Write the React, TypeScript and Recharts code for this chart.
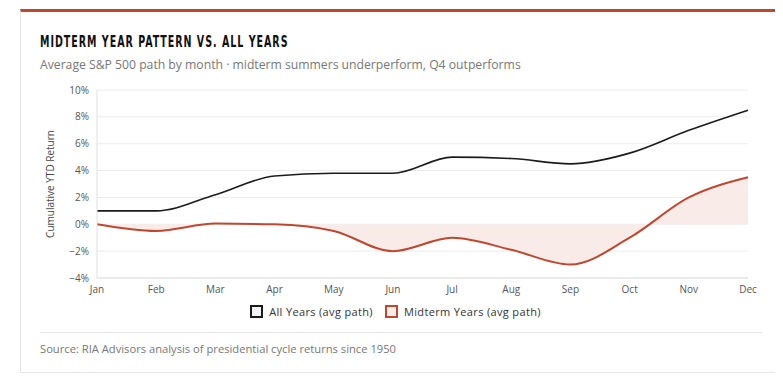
import React from 'react';
import {
  ComposedChart,
  Line,
  Area,
  XAxis,
  YAxis,
  CartesianGrid,
} from 'recharts';

// Month categories
const months = ['Jan', 'Feb', 'Mar', 'Apr', 'May', 'Jun', 'Jul', 'Aug', 'Sep', 'Oct', 'Nov', 'Dec'];

// Cumulative YTD return (%)
const allYears = [1.0, 1.0, 2.2, 3.6, 3.8, 3.8, 5.0, 4.9, 4.5, 5.3, 7.0, 8.5];
const midtermYears = [0, -0.5, 0.05, 0, -0.5, -2.0, -1.0, -1.9, -3.0, -1.0, 2.0, 3.5];

const yTicks = [-4, -2, 0, 2, 4, 6, 8, 10];

const data = months.map((m, i) => ({
  month: m,
  all: allYears[i],
  midterm: midtermYears[i],
}));

const RED = '#c0462f';
const BLACK = '#1b1b1b';
const FONT = '"Open Sans", sans-serif';

const fmtPct = (v: number) => (v < 0 ? `\u2212${Math.abs(v)}%` : `${v}%`);

const LegendItem = ({ color, fill, label }: { color: string; fill: string; label: string }) => (
  <span style={{ display: 'inline-flex', alignItems: 'center', marginRight: 12 }}>
    <span
      style={{
        display: 'inline-block',
        width: 9,
        height: 9,
        border: `2px solid ${color}`,
        background: fill,
        marginRight: 6,
      }}
    />
    {label}
  </span>
);

export default function App() {
  return (
    <div style={{ position: 'relative', width: 775, height: 372, fontFamily: FONT }}>
      <div
        style={{
          position: 'absolute',
          left: 12,
          top: 1,
          width: 761,
          height: 360,
          borderTop: `3px solid ${RED}`,
          borderLeft: '1px solid #e6e6e6',
          borderRight: '1px solid #e6e6e6',
          borderBottom: '1px solid #e6e6e6',
          background: '#fff',
        }}
      />
      <div
        style={{
          position: 'absolute',
          left: 32,
          top: 24,
          fontFamily: '"DejaVu Sans Condensed", sans-serif',
          fontWeight: 'bold',
          fontSize: 16,
          letterSpacing: 1.5,
          color: '#111',
          whiteSpace: 'nowrap',
          transform: 'scaleX(0.66)',
          transformOrigin: 'left center',
        }}
      >
        MIDTERM YEAR PATTERN VS. ALL YEARS
      </div>
      <div style={{ position: 'absolute', left: 32, top: 48, fontSize: 12.2, color: '#777' }}>
        Average S&amp;P 500 path by month · midterm summers underperform, Q4 outperforms
      </div>

      <div style={{ position: 'absolute', left: 12, top: 72 }}>
        <ComposedChart
          width={750}
          height={220}
          data={data}
          margin={{ top: 10, right: 22, bottom: 0, left: 30 }}
        >
          <CartesianGrid vertical={false} stroke="#ececec" />
          <XAxis
            dataKey="month"
            tickLine={false}
            axisLine={{ stroke: '#e0e0e0' }}
            tick={{ fontSize: 10, fill: '#555', fontFamily: FONT }}
            interval={0}
            height={22}
          />
          <YAxis
            domain={[-4, 10]}
            ticks={yTicks}
            tickFormatter={fmtPct}
            tickLine={false}
            axisLine={{ stroke: '#e0e0e0' }}
            tick={{ fontSize: 10, fill: '#555', fontFamily: FONT }}
            width={47}
            label={{
              value: 'Cumulative YTD Return',
              angle: -90,
              position: 'insideLeft',
              offset: 0,
              dx: 0,
              style: { fontSize: 10, fill: '#444', textAnchor: 'middle', fontFamily: FONT },
            }}
          />
          <Area
            type="monotone"
            dataKey="midterm"
            baseValue={0}
            stroke="none"
            fill="#f9ebe7"
            fillOpacity={1}
            isAnimationActive={false}
          />
          <Line
            type="monotone"
            dataKey="all"
            stroke={BLACK}
            strokeWidth={1.6}
            dot={false}
            isAnimationActive={false}
          />
          <Line
            type="monotone"
            dataKey="midterm"
            stroke={RED}
            strokeWidth={2}
            dot={false}
            isAnimationActive={false}
          />
        </ComposedChart>
      </div>

      <div
        style={{
          position: 'absolute',
          left: 12,
          width: 763,
          top: 296,
          textAlign: 'center',
          fontSize: 11,
          letterSpacing: 0.35,
          color: '#333',
        }}
      >
        <LegendItem color={BLACK} fill="#f4f4f4" label="All Years (avg path)" />
        <LegendItem color={RED} fill="#f9ebe7" label="Midterm Years (avg path)" />
      </div>

      <div
        style={{
          position: 'absolute',
          left: 32,
          top: 324,
          width: 722,
          borderTop: '1px solid #e6e6e6',
        }}
      />
      <div style={{ position: 'absolute', left: 32, top: 333, fontSize: 11.2, color: '#777' }}>
        Source: RIA Advisors analysis of presidential cycle returns since 1950
      </div>
    </div>
  );
}
